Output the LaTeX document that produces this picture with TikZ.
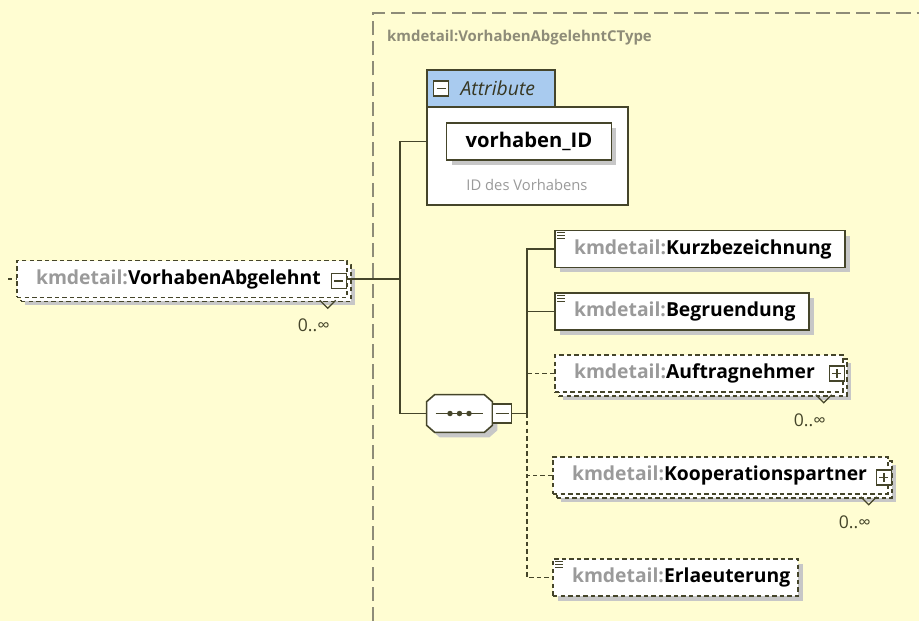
\documentclass[tikz,border=0pt]{standalone}
\usepackage{fontspec}
\setmainfont{Open Sans}
\usetikzlibrary{positioning,calc,shadows}
\definecolor{bgyellow}{HTML}{FFFDD2}
\definecolor{linecol}{HTML}{45452A}
\definecolor{prefixgray}{HTML}{9A9A9A}
\definecolor{titlegray}{HTML}{8E8C78}
\definecolor{tabblue}{HTML}{A9CBEF}
\newcommand{\kmname}[1]{\mbox{\textcolor{prefixgray}{kmdetail:}#1}}

\tikzset{
  elembox/.style={rectangle,draw=linecol,fill=white,line width=0.9pt,minimum height=0.74cm,
    inner xsep=0.38cm,inner ysep=0pt,align=left,font=\fontsize{11}{13}\selectfont\bfseries},
  elem/.style={elembox,drop shadow={shadow xshift=0.1cm,shadow yshift=-0.1cm,fill=black!22,opacity=1}},
  optelem/.style={elem,dash pattern=on 2.5pt off 1.8pt},
  multelem/.style={elembox,dash pattern=on 2.5pt off 1.8pt,
    drop shadow={shadow xshift=0.16cm,shadow yshift=-0.16cm,fill=black!22,opacity=1},
    general shadow={shadow xshift=0.08cm,shadow yshift=-0.08cm,fill=white,draw=linecol,
      line width=0.9pt,dash pattern=on 2.5pt off 1.8pt}},
  conn/.style={draw=linecol,line width=0.9pt},
  optconn/.style={conn,dash pattern=on 2.5pt off 1.8pt},
  minusbox/.style={rectangle,draw=linecol,fill=white,line width=0.8pt,minimum size=0.3cm,inner sep=0pt,
    path picture={\draw[linecol,line width=0.9pt] ([xshift=0.06cm]path picture bounding box.west)
      -- ([xshift=-0.06cm]path picture bounding box.east);}},
  plusbox/.style={minusbox,
    path picture={\draw[linecol,line width=0.9pt] ([xshift=0.06cm]path picture bounding box.west)
      -- ([xshift=-0.06cm]path picture bounding box.east)
      ([yshift=-0.06cm]path picture bounding box.north) -- ([yshift=0.06cm]path picture bounding box.south);}},
  multlabel/.style={font=\fontsize{10}{12}\selectfont,text=linecol}
}

\begin{document}
\begin{tikzpicture}[x=0.02cm,y=-0.02cm]
  \useasboundingbox (0,0) rectangle (919,621);
  \fill[bgyellow] (0,0) rectangle (919,621);
  % complex type frame
  \draw[titlegray,line width=0.8pt,dash pattern=on 8pt off 3.5pt] (373,621) |- (919,13);
  \node[anchor=west,text=titlegray,font=\fontsize{8.5}{10}\selectfont\bfseries] (ctype) at (381,38) {kmdetail:VorhabenAbgelehntCType};

  % attributes
  \node[draw=linecol,fill=tabblue,line width=0.9pt,minimum width=2.56cm,minimum height=0.74cm] (attrtab) at (491,88.5) {};
  \node[draw=linecol,fill=white,line width=0.9pt,minimum width=4.02cm,minimum height=1.96cm] (attrbox) at (527.5,156) {};
  \node[minusbox] (attrpm) at ([shift={(15,0)}]attrtab.west) {};
  \node[anchor=west,font=\fontsize{11}{13}\selectfont\itshape,text=linecol!80!black] (attrlbl) at ([shift={(5,0)}]attrpm.east) {Attribute};
  \node[elem,minimum width=3.08cm,font=\fontsize{11.5}{13}\selectfont\bfseries] (vid) at (529,141.5) {vorhaben\_ID};
  \node[font=\fontsize{8.4}{10}\selectfont,text=prefixgray] (viddesc) at (527,185) {ID des Vorhabens};

  % root element
  \node[multelem,text width=5.84cm] (root) at (182,279) {\kmname{VorhabenAbgelehnt}};
  \node[minusbox] (rootpm) at ([shift={(-9,2)}]root.east) {};
  \coordinate (rootin) at (8,279);
  \draw[optconn] (rootin) -- (root.west);

  % sequence
  \node[minimum width=1.3cm,minimum height=0.74cm,inner sep=0pt] (seq) at (459.5,413.5) {};
  \draw[linecol,fill=white,line width=0.9pt,
    drop shadow={shadow xshift=0.1cm,shadow yshift=-0.1cm,fill=black!22,opacity=1}]
    ([xshift=0.16cm]seq.north west) -- ([xshift=-0.16cm]seq.north east)
    -- ([yshift=-0.14cm]seq.north east) -- ([yshift=0.14cm]seq.south east)
    -- ([xshift=-0.16cm]seq.south east) -- ([xshift=0.16cm]seq.south west)
    -- ([yshift=0.14cm]seq.south west) -- ([yshift=-0.14cm]seq.north west) -- cycle;
  \draw[linecol,line width=0.9pt] ([xshift=0.18cm]seq.west) -- ([xshift=-0.18cm]seq.east);
  \foreach \dx in {-0.19,0,0.19}
    \fill[linecol] ([xshift=\dx cm]seq.center) circle (0.055cm);
  \node[minusbox,minimum size=0.38cm] (seqm) at (502,413.5) {};

  % children
  \node[elem,text width=5.04cm] (kurz) at (700,249) {\kmname{Kurzbezeichnung}};
  \node[elem,text width=4.32cm] (begr) at (682,311.5) {\kmname{Begruendung}};
  \node[multelem,text width=5.0cm] (auf) at (699,373.5) {\kmname{Auftragnehmer}};
  \node[plusbox] (aufpm) at ([shift={(-7,0)}]auf.east) {};
  \node[multelem,text width=5.94cm] (koop) at (720.5,475.5) {\kmname{Kooperationspartner}};
  \node[plusbox] (kooppm) at ([shift={(-5,2)}]koop.east) {};
  \node[optelem,text width=4.14cm] (erl) at (675.5,577.5) {\kmname{Erlaeuterung}};

  % simple type marks
  \foreach \n in {kurz,begr,erl}
    \foreach \k in {3,6,9}
      \draw[linecol,line width=0.6pt] ([shift={(3,\k)}]\n.north west) -- ++(8,0);

  % occurrences
  \foreach \n in {root,auf,koop} {
    \draw[linecol,line width=0.7pt] ([shift={(-28,2)}]\n.south east) -- ++(8,8) -- ++(8,-8);
    \node[multlabel] (\n-mult) at ([shift={(-34,27)}]\n.south east) {0..∞};
  }

  % connectors
  \coordinate (j1) at (400,279);
  \coordinate (j2) at (527,413.5);
  \draw[conn] (root.east) -- (j1);
  \draw[conn] (attrbox.west |- vid) -| (j1) |- (seq.west);
  \draw[conn] (seqm.east) -- (j2);
  \draw[conn] (kurz.west) -| (j2);
  \draw[conn] (begr.west) -- (begr.west -| j2);
  \draw[optconn] (auf.west) -- (auf.west -| j2);
  \draw[optconn] (koop.west) -- (koop.west -| j2);
  \draw[optconn] (j2) |- (erl.west);
\end{tikzpicture}
\end{document}
